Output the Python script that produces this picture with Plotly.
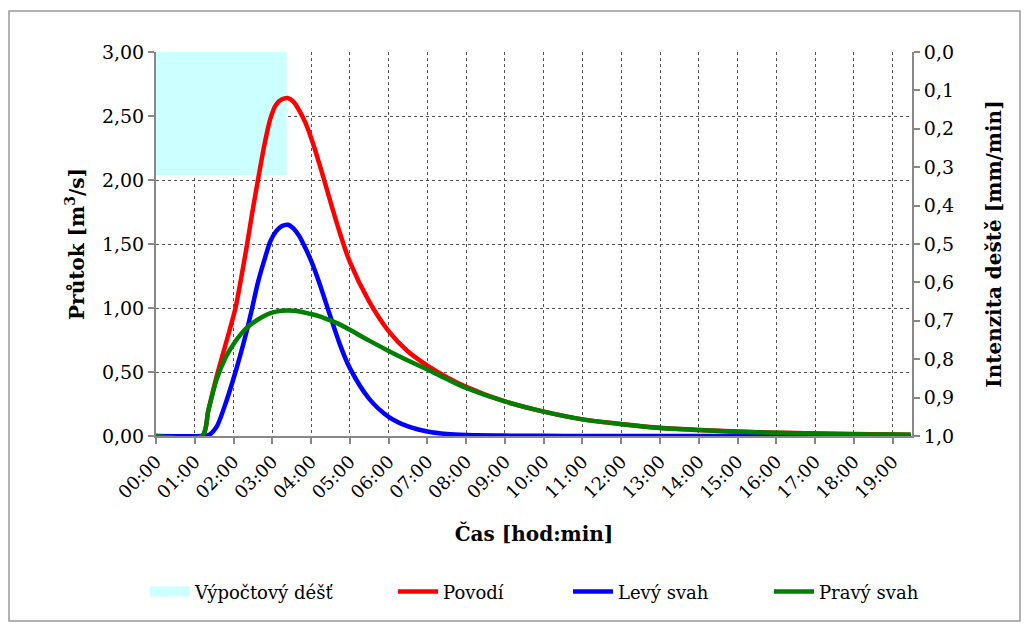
import plotly.graph_objects as go

# time in hours
time_h = [0, 1.19, 1.35, 1.56, 1.79, 2.05, 2.2, 2.34, 2.48, 2.63, 2.8, 2.95, 3.1, 3.25, 3.4,
          3.55, 3.7, 3.85, 4.0, 4.22, 4.48, 4.75, 5.0, 5.5, 6.0, 6.5, 7.0, 7.5, 8.0,
          9.0, 10.0, 11.0, 12.0, 13.0, 14.0, 15.0, 16.0, 17.0, 18.0, 19.0, 19.47]
povodi = [0, 0, 0.20, 0.46, 0.71, 1.00, 1.24, 1.48, 1.74, 2.00, 2.28, 2.48, 2.59, 2.63, 2.64,
          2.61, 2.54, 2.45, 2.33, 2.12, 1.85, 1.58, 1.36, 1.05, 0.82, 0.66, 0.55, 0.46, 0.385,
          0.27, 0.19, 0.13, 0.094, 0.064, 0.047, 0.035, 0.026, 0.020, 0.015, 0.012, 0.010]
levy_svah = [0, 0, 0.005, 0.07, 0.25, 0.50, 0.66, 0.82, 1.00, 1.20, 1.38, 1.52, 1.60, 1.64, 1.65,
             1.62, 1.56, 1.47, 1.37, 1.19, 0.95, 0.71, 0.53, 0.29, 0.15, 0.075, 0.035, 0.015, 0.007,
             0.003, 0.001, 0, 0, 0, 0, 0, 0, 0, 0, 0, 0]
pravy_svah = [0, 0, 0.20, 0.44, 0.61, 0.74, 0.80, 0.845, 0.88, 0.91, 0.94, 0.96, 0.972, 0.979, 0.98,
              0.978, 0.972, 0.963, 0.953, 0.935, 0.905, 0.87, 0.83, 0.745, 0.665, 0.59, 0.52, 0.445, 0.375,
              0.27, 0.19, 0.13, 0.092, 0.062, 0.046, 0.034, 0.025, 0.019, 0.014, 0.011, 0.010]

# design rain
rain_start_h = [0]
rain_duration_h = [3.37]
rain_intensity = [0.32]

hour_ticks = list(range(0, 20))
hour_labels = [f"{h:02d}:00" for h in hour_ticks]

FONT = "DejaVu Serif"
GRID = "#555555"
AXC = "#888888"
RAIN_COLOR = "#CCFFFF"

# page body has an 8px margin; plot area in page pixels: x 156..912, y 52..436
fig = go.Figure()

fig.add_trace(go.Bar(
    x=rain_start_h, y=rain_intensity, width=rain_duration_h, offset=0, base=0,
    marker=dict(color=RAIN_COLOR, line=dict(width=0)),
    name="Výpočtový déšť", yaxis="y", xaxis="x", showlegend=False,
))
# legend entry for the rain block (wide light-cyan swatch)
fig.add_trace(go.Scatter(
    x=[None], y=[None], mode="lines", name="Výpočtový déšť", yaxis="y",
    line=dict(color=RAIN_COLOR, width=18), legendwidth=193, hoverinfo="skip",
))

for name, vals, col, lw in [("Povodí", povodi, "#FF0000", 120),
                            ("Levý svah", levy_svah, "#0000FF", 146),
                            ("Pravý svah", pravy_svah, "#008000", 110)]:
    fig.add_trace(go.Scatter(
        x=time_h, y=vals, mode="lines", name=name, yaxis="y2", legendwidth=lw,
        line=dict(color=col, width=4.5, shape="spline", smoothing=0.8),
    ))

fig.update_layout(
    width=1021, height=616,
    paper_bgcolor="white", plot_bgcolor="white",
    separators=", ",
    font=dict(family=FONT, size=19, color="black"),
    margin=dict(l=148, r=117, t=44, b=188),
    barmode="overlay",
    xaxis=dict(
        range=[0, 19.5], tickvals=hour_ticks, ticktext=hour_labels, tickangle=-45,
        showgrid=True, gridcolor=GRID, griddash="dot", gridwidth=1,
        showline=True, linecolor=AXC, linewidth=2,
        ticks="outside", ticklen=6, tickcolor=AXC, tickwidth=2,
        zeroline=False,
        title=dict(text="<b>Čas [hod:min]</b>", font=dict(size=20), standoff=26),
        tickfont=dict(size=18),
    ),
    yaxis=dict(
        side="right", range=[1, 0], dtick=0.1, tickformat=".1f",
        showgrid=False, zeroline=False,
        showline=True, linecolor=AXC, linewidth=2,
        ticks="outside", ticklen=6, tickcolor=AXC, tickwidth=2,
        title=dict(text="<b>Intenzita deště [mm/min]</b>", font=dict(size=20), standoff=34),
        tickfont=dict(size=19),
    ),
    yaxis2=dict(
        side="left", overlaying="y", range=[0, 3], dtick=0.5, tickformat=".2f",
        showgrid=True, gridcolor=GRID, griddash="dot", gridwidth=1,
        zeroline=False,
        showline=True, linecolor=AXC, linewidth=2,
        ticks="outside", ticklen=6, tickcolor=AXC, tickwidth=2,
        title=dict(text="<b>Průtok [m<sup>3</sup>/s]</b>", font=dict(size=20), standoff=12),
        tickfont=dict(size=19),
    ),
    legend=dict(
        orientation="h", x=(145 - 156) / 756, xanchor="left", y=-0.406, yanchor="middle",
        font=dict(size=18), traceorder="normal", itemwidth=40,
    ),
    shapes=[dict(
        type="rect", xref="paper", yref="paper",
        x0=(9 - 156) / 756, x1=(1020 - 156) / 756,
        y0=(436 - 621) / 384, y1=(436 - 11) / 384,
        line=dict(color="#999999", width=1.5), fillcolor="rgba(0,0,0,0)", layer="below",
    )],
)

fig.write_html("out.html")
